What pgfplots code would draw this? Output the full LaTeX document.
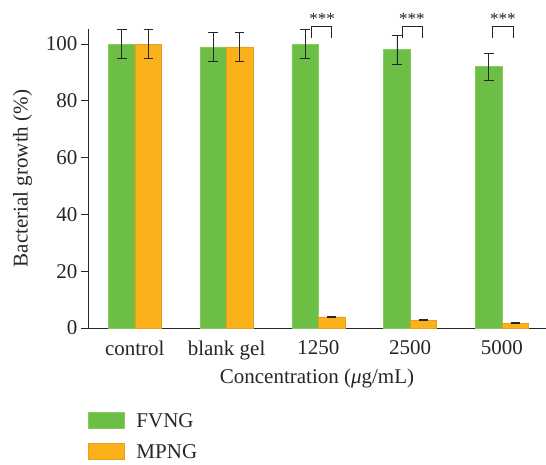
\documentclass[border=0pt]{standalone}
\usepackage{fontspec}
\setmainfont{Liberation Serif}
\usepackage{pgfplots}
\pgfplotsset{compat=1.18}
\definecolor{fgreen}{HTML}{6CBE45}
\definecolor{fgreenedge}{HTML}{86CB62}
\definecolor{morange}{HTML}{FBB21A}
\definecolor{morangeedge}{HTML}{E6A020}
\newcommand{\ff}{\fontsize{21}{24}\selectfont}
\begin{document}
\begin{tikzpicture}
\useasboundingbox (-88pt,-136pt) rectangle (458pt,328pt);
\begin{axis}[
  scale only axis, width=458pt, height=299pt,
  xmin=-0.51, xmax=4.48, ymin=0, ymax=105.3,
  axis lines=left,
  axis line style={-, line width=0.8pt, black!85},
  clip=false,
  ybar=0pt, bar width=26.5pt,
  xtick={0,1,2,3,4},
  xticklabels={control, blank gel, 1250, 2500, 5000},
  xtick style={draw=none},
  ytick={0,20,40,60,80,100},
  ytick style={line width=0.8pt, black!85},
  tick align=outside, major tick length=7pt,
  /pgf/number format/assume math mode=true,
  tick label style={font=\ff, black!85},
  xticklabel style={yshift=-2pt},
  label style={font=\ff, black!85},
  xlabel={Concentration (\textit{μ}g/mL)},
  xlabel style={yshift=-2pt},
  ylabel={Bacterial growth (\%)},
  ylabel style={yshift=7pt},
  legend style={at={(axis description cs:0,-0.278)}, anchor=north west, draw=none, fill=none,
    font=\ff, row sep=13pt, inner sep=0pt, text=black!85, nodes={text depth=0pt}},
  legend cell align=left,
  legend image code/.code={\draw[#1, line width=0.6pt] (0pt,-8pt) rectangle (36pt,8pt); \path[draw=none,fill=none] (0pt,0pt) -- (46pt,0pt);},
]
\addplot[fill=fgreen, draw=fgreenedge, line width=0.6pt,
  error bars/.cd, y dir=both, y explicit,
  error bar style={line width=0.8pt, black!85},
  error mark options={rotate=90, mark size=5pt, line width=0.8pt, black!85}]
  coordinates {(0,100) +- (0,5) (1,99) +- (0,5) (2,100) +- (0,5) (3,98) +- (0,5) (4,92) +- (0,4.7)};
\addlegendentry{FVNG}
\addplot[fill=morange, draw=morangeedge, line width=0.6pt,
  error bars/.cd, y dir=both, y explicit,
  error bar style={line width=0.8pt, black!85},
  error mark options={rotate=90, mark size=4.5pt, line width=0.8pt, black!85}]
  coordinates {(0,100) +- (0,5) (1,99) +- (0,5) (2,3.9) +- (0,0.15) (3,2.8) +- (0,0.15) (4,1.7) +- (0,0.15)};
\addlegendentry{MPNG}
\draw[line width=0.8pt, black!85] (axis cs:1.925,102.3) |- (axis cs:2.145,106.1) -- (axis cs:2.145,102.3);
\draw[line width=0.8pt, black!85] (axis cs:2.912,102.3) |- (axis cs:3.134,106.1) -- (axis cs:3.134,102.3);
\draw[line width=0.8pt, black!85] (axis cs:3.897,102.3) |- (axis cs:4.13,106.1) -- (axis cs:4.13,102.3);
\node[font=\fontsize{17}{17}\selectfont, black!85, inner sep=0pt] at (axis cs:2.04,108.9) {***};
\node[font=\fontsize{17}{17}\selectfont, black!85, inner sep=0pt] at (axis cs:3.02,108.9) {***};
\node[font=\fontsize{17}{17}\selectfont, black!85, inner sep=0pt] at (axis cs:4.01,108.9) {***};
\end{axis}
\end{tikzpicture}
\end{document}
